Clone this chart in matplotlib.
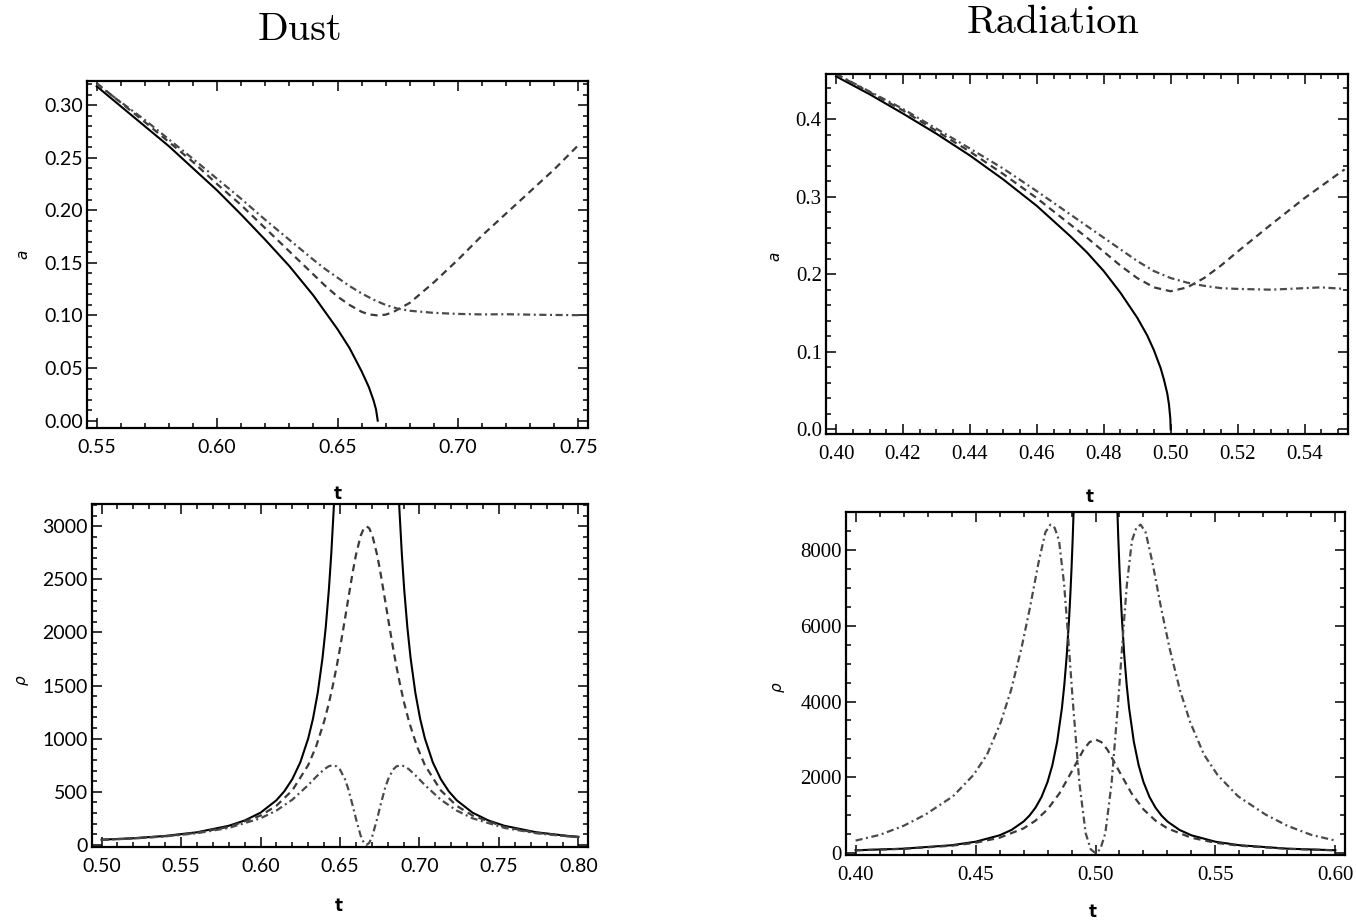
import numpy as np
import matplotlib
matplotlib.use('Agg')
import matplotlib.pyplot as plt
from matplotlib.ticker import MultipleLocator, FormatStrFormatter

W, H = 1356, 921
nan = np.nan

# ── DUST: scale factor a(t) ─────────────────────────────────────────────────
T_DUST_A_SOLID = [0.55, 0.56, 0.57, 0.58, 0.59, 0.60, 0.61, 0.62, 0.63, 0.64,
                  0.645, 0.65, 0.655, 0.66, 0.663, 0.665, 0.666, 0.6667]
A_DUST_SOLID = [0.318, 0.299, 0.280, 0.261, 0.240, 0.219, 0.196, 0.172, 0.147, 0.119,
                0.103, 0.087, 0.069, 0.047, 0.032, 0.019, 0.0105, 0.0]

T_DUST_A_DASH = [0.55, 0.57, 0.59, 0.60, 0.61, 0.62, 0.63, 0.64, 0.645, 0.65, 0.655,
                 0.66, 0.663, 0.6667, 0.670, 0.673, 0.68, 0.69, 0.70, 0.71, 0.72,
                 0.73, 0.74, 0.75]
A_DUST_DASH = [0.321, 0.284, 0.246, 0.225, 0.205, 0.183, 0.161, 0.139, 0.128, 0.118, 0.110,
               0.1035, 0.1011, 0.100, 0.1008, 0.1031, 0.112, 0.1315, 0.153, 0.176, 0.197,
               0.218, 0.239, 0.262]

T_DUST_A_DDOT = [0.55, 0.57, 0.59, 0.60, 0.61, 0.62, 0.63, 0.64, 0.645, 0.65, 0.655,
                 0.66, 0.665, 0.67, 0.675, 0.68, 0.685, 0.69, 0.70, 0.71, 0.72, 0.73,
                 0.74, 0.75]
A_DUST_DDOT = [0.320, 0.286, 0.249, 0.230, 0.211, 0.191, 0.172, 0.153, 0.144, 0.136, 0.128,
               0.121, 0.115, 0.110, 0.1065, 0.1045, 0.1035, 0.1025, 0.1015, 0.101, 0.1012,
               0.1008, 0.1005, 0.1003]

# ── RADIATION: scale factor a(t) ────────────────────────────────────────────
T_RAD_A_SOLID = [0.40, 0.41, 0.42, 0.43, 0.44, 0.45, 0.46, 0.47, 0.475, 0.48, 0.485,
                 0.49, 0.493, 0.495, 0.497, 0.498, 0.499, 0.4995, 0.4999, 0.50]
A_RAD_SOLID = [0.455, 0.432, 0.407, 0.381, 0.353, 0.322, 0.288, 0.249, 0.228, 0.204, 0.176,
               0.144, 0.121, 0.102, 0.079, 0.064, 0.046, 0.032, 0.014, 0.0]

T_RAD_A_DASH = [0.40, 0.42, 0.44, 0.45, 0.46, 0.47, 0.475, 0.48, 0.485, 0.49, 0.495,
                0.50, 0.505, 0.51, 0.515, 0.52, 0.53, 0.54, 0.55, 0.552]
A_RAD_DASH = [0.458, 0.411, 0.358, 0.329, 0.298, 0.264, 0.247, 0.229, 0.211, 0.195, 0.183,
              0.178, 0.183, 0.195, 0.211, 0.229, 0.264, 0.298, 0.329, 0.335]

T_RAD_A_DDOT = [0.40, 0.42, 0.44, 0.45, 0.46, 0.47, 0.475, 0.48, 0.485, 0.49, 0.495,
                0.50, 0.505, 0.51, 0.515, 0.52, 0.53, 0.54, 0.545, 0.552]
A_RAD_DDOT = [0.458, 0.413, 0.362, 0.336, 0.307, 0.277, 0.262, 0.247, 0.232, 0.217, 0.204,
              0.195, 0.189, 0.185, 0.182, 0.181, 0.180, 0.182, 0.183, 0.181]

# ── DUST: density rho(t) ────────────────────────────────────────────────────
T_DUST_RHO_SOLID = [0.50, 0.52, 0.54, 0.56, 0.58, 0.59, 0.60, 0.61, 0.615, 0.62, 0.625,
                    0.63, 0.633, 0.636, 0.639, 0.641, 0.643, 0.6445, 0.646, 0.647, 0.648,
                    0.6667,
                    0.6854, 0.6864, 0.6874, 0.6889, 0.6904, 0.6924, 0.6944, 0.6974, 0.7004,
                    0.7034, 0.7084, 0.7134, 0.7184, 0.7234, 0.7334, 0.7434, 0.7534, 0.7734,
                    0.7934, 0.80]
RHO_DUST_SOLID = [48.6, 62.7, 84.1, 118.6, 179.6, 229.5, 303, 420, 505, 619, 776,
                  1002, 1188, 1432, 1760, 2044, 2403, 2739, 3150, 3479, 3860,
                  nan,
                  3860, 3479, 3150, 2739, 2403, 2044, 1760, 1432, 1188,
                  1002, 776, 619, 505, 420, 303, 229.5, 180, 119,
                  84, 76]

T_DUST_RHO = [0.50, 0.52, 0.54, 0.56, 0.58, 0.60, 0.61, 0.62, 0.63, 0.635, 0.64,
              0.643, 0.6455, 0.648, 0.65, 0.653, 0.655, 0.658, 0.66, 0.663, 0.665, 0.6667,
              0.6684, 0.6704, 0.6734, 0.6754, 0.6784, 0.6804, 0.6834, 0.6854, 0.6879, 0.6904,
              0.6934, 0.6984, 0.7034, 0.7134, 0.7234, 0.7334, 0.7534, 0.7734, 0.7934, 0.80]
RHO_DUST_DASH = [47.8, 61.4, 81.8, 114.1, 169.4, 275.6, 368.4, 513.1, 751.3, 927.8, 1160.8,
                 1334, 1501, 1688, 1852, 2117, 2300, 2568, 2728, 2911, 2981, 3000,
                 2981, 2911, 2728, 2568, 2300, 2117, 1852, 1688, 1501, 1334,
                 1161, 928, 751, 513, 368, 276, 169, 114, 82, 74.1]
RHO_DUST_DDOT = [47.0, 60.2, 79.6, 109.7, 159.9, 250.2, 323.1, 425.4, 563.1, 640.9, 711.6,
                 740.9, 750.0, 738.2, 708.7, 623.1, 536.6, 369.8, 247.5, 86.0, 19.0, 0.0,
                 19.0, 86.0, 247.5, 369.8, 536.6, 623.1, 708.7, 738.2, 750.0, 740.9,
                 711.6, 640.9, 563.1, 425.4, 323.1, 250.2, 159.9, 109.7, 79.6, 72.3]

# ── RADIATION: density rho(t) ───────────────────────────────────────────────
T_RAD_RHO_SOLID = [0.40, 0.42, 0.44, 0.45, 0.46, 0.465, 0.47, 0.4725, 0.475, 0.4775, 0.48,
                   0.482, 0.484, 0.486, 0.487, 0.488, 0.489, 0.4895, 0.490, 0.4905, 0.491,
                   0.50,
                   0.509, 0.5095, 0.510, 0.5105, 0.511, 0.512, 0.513, 0.514, 0.516, 0.518,
                   0.52, 0.5225, 0.525, 0.5275, 0.53, 0.535, 0.54, 0.55, 0.56, 0.58, 0.60]
RHO_RAD_SOLID = [75, 117, 208, 300, 469, 612, 833, 992, 1200, 1481, 1875,
                 2315, 2930, 3827, 4438, 5208, 6198, 6803, 7500, 8310, 9259,
                 nan,
                 9259, 8310, 7500, 6803, 6198, 5208, 4438, 3827, 2930, 2315,
                 1875, 1481, 1200, 992, 833, 612, 469, 300, 208, 117, 75]

T_RAD_RHO_DASH = [0.40, 0.42, 0.44, 0.45, 0.46, 0.47, 0.475, 0.48, 0.485, 0.49, 0.495,
                  0.4975, 0.50, 0.5025, 0.505, 0.51, 0.515, 0.52, 0.525, 0.53, 0.54,
                  0.55, 0.56, 0.58, 0.60]
RHO_RAD_DASH = [73, 113, 195, 273, 405, 652, 857, 1154, 1579, 2143, 2727,
                2927, 3000, 2927, 2727, 2143, 1579, 1154, 857, 652, 405,
                273, 195, 113, 73]

T_RAD_RHO_DDOT = [0.40, 0.41, 0.42, 0.4292, 0.4406, 0.4491, 0.4548, 0.4605, 0.4648, 0.4691,
                  0.4726, 0.4762, 0.4791, 0.4812, 0.4830, 0.4848, 0.4869, 0.4883, 0.4905,
                  0.4933, 0.4959, 0.4980, 0.50,
                  0.5020, 0.5041, 0.5067, 0.5095, 0.5117, 0.5131, 0.5152, 0.5170, 0.5188,
                  0.5209, 0.5238, 0.5274, 0.5309, 0.5352, 0.5395, 0.5452, 0.5509, 0.5594,
                  0.5708, 0.58, 0.59, 0.60]
RHO_RAD_DDOT = [330, 480, 720, 1020, 1500, 2060, 2600, 3450, 4300, 5400,
                6450, 7650, 8465, 8667, 8580, 8246, 7105, 5965, 4035,
                1842, 526, 100, 0,
                100, 526, 1842, 4035, 5965, 7105, 8246, 8580, 8667,
                8465, 7650, 6450, 5400, 4300, 3450, 2600, 2060, 1500,
                1020, 720, 480, 330]

SOLID = dict(color='black', lw=1.5, linestyle='-')
DASH = dict(color='#3a3a3a', lw=1.6, linestyle=(0, (3.2, 2.2)))
DDOT = dict(color='#4a4a4a', lw=1.6, linestyle=(0, (3.2, 1.6, 0.9, 1.6)))


def add_ax(fig, l, t, r, b):
    return fig.add_axes([l / W, 1 - b / H, (r - l) / W, (b - t) / H])


def estilo(ax, xlim, ylim, xmaj, xmin, ymaj, ymin, xfmt, yfmt, fonte, tam):
    ax.set_xlim(*xlim)
    ax.set_ylim(*ylim)
    ax.xaxis.set_major_locator(MultipleLocator(xmaj))
    ax.xaxis.set_minor_locator(MultipleLocator(xmin))
    ax.yaxis.set_major_locator(MultipleLocator(ymaj))
    ax.yaxis.set_minor_locator(MultipleLocator(ymin))
    ax.xaxis.set_major_formatter(FormatStrFormatter(xfmt))
    ax.yaxis.set_major_formatter(FormatStrFormatter(yfmt))
    ax.tick_params(which='both', direction='in', top=True, right=True,
                   width=1.1, colors='black')
    ax.tick_params(which='major', length=7, labelsize=tam, labelfontfamily=fonte)
    ax.tick_params(axis='x', which='major', pad=8)
    ax.tick_params(axis='y', which='major', pad=3)
    ax.tick_params(which='minor', length=3.5)
    for s in ax.spines.values():
        s.set_linewidth(1.6)


def texto(fig, x, y, s, **kw):
    fig.text(x / W, 1 - y / H, s, **kw)


fig = plt.figure(figsize=(W / 100, H / 100), dpi=100)

# top-left: dust a(t)
ax = add_ax(fig, 87, 81, 588, 428)
ax.plot(T_DUST_A_SOLID, A_DUST_SOLID, **SOLID)
ax.plot(T_DUST_A_DASH, A_DUST_DASH, **DASH)
ax.plot(T_DUST_A_DDOT, A_DUST_DDOT, **DDOT)
estilo(ax, (0.546, 0.754), (-0.007, 0.323), 0.05, 0.01, 0.05, 0.01,
       '%.2f', '%.2f', 'Lato', 14)

# top-right: radiation a(t)
ax = add_ax(fig, 826, 74, 1348, 434)
ax.plot(T_RAD_A_SOLID, A_RAD_SOLID, **SOLID)
ax.plot(T_RAD_A_DASH, A_RAD_DASH, **DASH)
ax.plot(T_RAD_A_DDOT, A_RAD_DDOT, **DDOT)
estilo(ax, (0.397, 0.553), (-0.006, 0.458), 0.02, 0.005, 0.1, 0.02,
       '%.2f', '%.1f', 'Liberation Serif', 15)

# bottom-left: dust rho(t)
ax = add_ax(fig, 92, 504, 588, 847)
ax.plot(T_DUST_RHO_SOLID, RHO_DUST_SOLID, **SOLID)
ax.plot(T_DUST_RHO, RHO_DUST_DASH, **DASH)
ax.plot(T_DUST_RHO, RHO_DUST_DDOT, **DDOT)
estilo(ax, (0.494, 0.806), (-20, 3210), 0.05, 0.01, 500, 100,
       '%.2f', '%d', 'Lato', 14)

# bottom-right: radiation rho(t)
ax = add_ax(fig, 846, 512, 1345, 855)
ax.plot(T_RAD_RHO_SOLID, RHO_RAD_SOLID, **SOLID)
ax.plot(T_RAD_RHO_DASH, RHO_RAD_DASH, **DASH)
ax.plot(T_RAD_RHO_DDOT, RHO_RAD_DDOT, **DDOT)
estilo(ax, (0.396, 0.604), (-50, 9000), 0.05, 0.01, 2000, 500,
       '%.2f', '%d', 'Liberation Serif', 15)

# titles
texto(fig, 300, 40, 'Dust', fontfamily='cmr10', fontsize=29, ha='center', va='baseline')
texto(fig, 1053, 33, 'Radiation', fontfamily='cmr10', fontsize=29, ha='center', va='baseline')

# axis labels
for x, y in [(23, 255), (775, 257)]:
    texto(fig, x, y, '$a$', fontsize=11, rotation=90, ha='center', va='center')
for x, y in [(23, 680), (779, 687)]:
    texto(fig, x, y, r'$\rho$', fontsize=11, rotation=90, ha='center', va='center')
for x, y in [(338, 494), (339, 906), (1090, 497), (1093, 912)]:
    texto(fig, x, y, 't', fontfamily='DejaVu Sans', fontweight='bold', fontsize=12,
          ha='center', va='center')

fig.savefig('out.png', dpi=100)
